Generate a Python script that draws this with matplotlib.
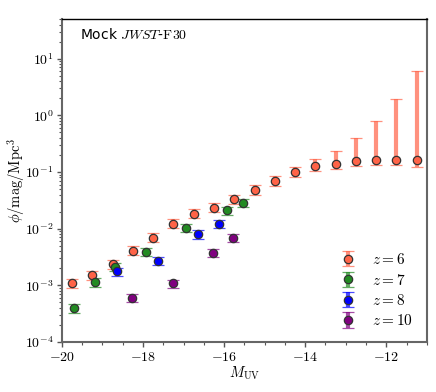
import matplotlib
matplotlib.use("Agg")
import matplotlib.pyplot as plt
from matplotlib.ticker import FuncFormatter, MultipleLocator, LogLocator, NullFormatter
import numpy as np

plt.rcParams['mathtext.fontset'] = 'cm'

# z = 6
z6_M = [-19.75, -19.25, -18.75, -18.25, -17.75, -17.25, -16.75, -16.25, -15.75,
        -15.25, -14.75, -14.25, -13.75, -13.25, -12.75, -12.25, -11.75, -11.25]
z6_phi = [1.08e-3, 1.5e-3, 2.33e-3, 4.06e-3, 6.95e-3, 0.0123, 0.0181, 0.0233, 0.0328,
          0.049, 0.0706, 0.100, 0.126, 0.140, 0.154, 0.165, 0.165, 0.160]
z6_lo = [0.88e-3, 1.25e-3, 1.95e-3, 3.4e-3, 5.8e-3, 0.0103, 0.0151, 0.0194, 0.0272,
         0.040, 0.0577, 0.0807, 0.103, 0.115, 0.126, 0.131, 0.131, 0.121]
z6_hi = [1.30e-3, 1.8e-3, 2.8e-3, 4.9e-3, 8.4e-3, 0.0148, 0.0218, 0.0282, 0.0398,
         0.060, 0.0865, 0.1245, 0.172, 0.237, 0.39, 0.80, 1.94, 6.0]

# z = 7
z7_M = [-19.69, -19.18, -18.69, -17.93, -16.93, -15.93, -15.54]
z7_phi = [3.94e-4, 1.13e-3, 2.13e-3, 3.94e-3, 0.0104, 0.021, 0.0286]
# z = 8
z8_M = [-18.63, -17.64, -16.64, -16.13]
z8_phi = [1.76e-3, 2.71e-3, 7.98e-3, 0.01225]
# z = 10
z10_M = [-18.28, -17.27, -16.27, -15.78]
z10_phi = [6.08e-4, 1.08e-3, 3.79e-3, 6.95e-3]

rel_err = 0.17

fig = plt.figure(figsize=(4.36, 3.92), dpi=100)
ax = fig.add_axes([0.142, 0.1276, 0.837, 0.8239])

eb_alpha = 0.7

def draw(M, phi, lo, hi, color, label):
    phi = np.array(phi)
    yerr = [phi - np.array(lo), np.array(hi) - phi]
    cont = ax.errorbar(M, phi, yerr=yerr, fmt='o', color=color, ecolor=color,
                       elinewidth=3, capsize=4, capthick=1.5, markersize=6,
                       markeredgecolor='#333333', markeredgewidth=0.9,
                       label=label, zorder=3)
    for cap in cont[1]:
        cap.set_markeredgecolor(color)
        cap.set_color(color)
        cap.set_alpha(eb_alpha)
    for coll in cont[2]:
        coll.set_alpha(eb_alpha)

def draw_rel(M, phi, color, label):
    phi = np.array(phi)
    draw(M, phi, phi * (1 - rel_err), phi * (1 + rel_err), color, label)

draw(z6_M, z6_phi, z6_lo, z6_hi, 'tomato', r'$z=6$')
draw_rel(z7_M, z7_phi, 'forestgreen', r'$z=7$')
draw_rel(z8_M, z8_phi, 'blue', r'$z=8$')
draw_rel(z10_M, z10_phi, 'purple', r'$z=10$')

ax.set_yscale('log')
ax.set_xlim(-20, -11)
ax.set_ylim(1e-4, 50)

ax.xaxis.set_major_locator(MultipleLocator(2))
ax.xaxis.set_minor_locator(MultipleLocator(0.5))
ax.xaxis.set_major_formatter(FuncFormatter(lambda v, p: r'$%d$' % v if v >= 0 else r'$-%d$' % (-v)))
ax.yaxis.set_major_locator(LogLocator(base=10, numticks=20))
ax.yaxis.set_minor_locator(LogLocator(base=10, subs=np.arange(2, 10), numticks=20))
ax.yaxis.set_major_formatter(FuncFormatter(lambda v, p: r'$10^{%d}$' % int(round(np.log10(v)))))
ax.yaxis.set_minor_formatter(NullFormatter())

ax.tick_params(axis='both', which='major', direction='out', length=3.5, width=1.0,
               labelsize=10, color='#555555', pad=2.5)
ax.tick_params(axis='both', which='minor', direction='out', length=2, width=0.8, color='#555555')

for s in ['left', 'bottom', 'right']:
    ax.spines[s].set_color('#666666')
    ax.spines[s].set_linewidth(1.5)
ax.spines['top'].set_color('black')
ax.spines['top'].set_linewidth(1.0)

ax.set_xlabel(r'$M_{\mathrm{UV}}$', fontsize=10.5, labelpad=0)
ax.set_ylabel(r'$\phi/\mathrm{mag}/\mathrm{Mpc}^3$', fontsize=10.5)
ax.yaxis.set_label_coords(-0.095, 0.5)

ax.text(0.05, 0.953, r'Mock $JWST$-$\mathrm{F30}$', transform=ax.transAxes,
        fontsize=10, va='center', ha='left')

leg = ax.legend(loc='lower right', frameon=False, fontsize=11, handlelength=1.0,
                handletextpad=1.1, labelspacing=0.35, borderaxespad=0.5)

fig.savefig('out.png', dpi=100)
